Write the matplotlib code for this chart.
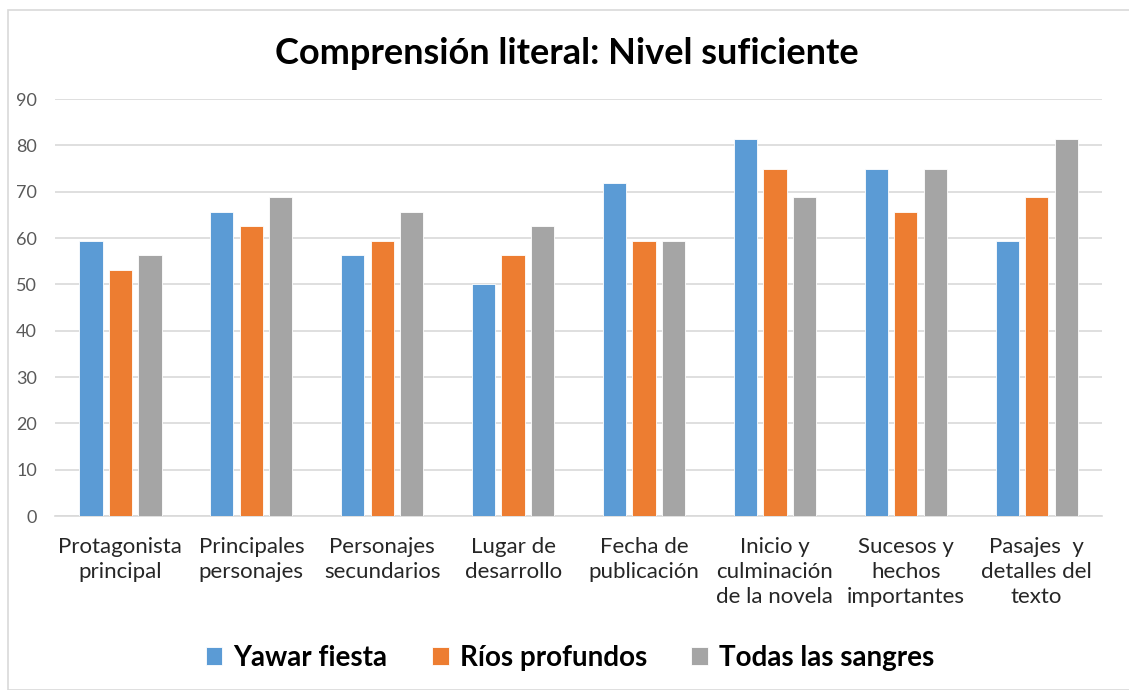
import matplotlib.pyplot as plt
import numpy as np
from matplotlib.patches import Rectangle

# Data
categories = ['Protagonista\nprincipal', 'Principales\npersonajes', 'Personajes\nsecundarios',
              'Lugar de\ndesarrollo', 'Fecha de\npublicación', 'Inicio y\nculminación\nde la novela',
              'Sucesos y\nhechos\nimportantes', 'Pasajes  y\ndetalles del\ntexto']
yawar_fiesta = [59.4, 65.6, 56.3, 50.0, 71.9, 81.3, 75.0, 59.4]
rios_profundos = [53.1, 62.5, 59.4, 56.3, 59.4, 75.0, 65.6, 68.8]
todas_las_sangres = [56.3, 68.8, 65.6, 62.5, 59.4, 68.8, 75.0, 81.3]
series_names = ['Yawar fiesta', 'Ríos profundos', 'Todas las sangres']

plt.rcParams['font.family'] = ['Lato', 'DejaVu Sans']

colors = ['#5b9bd5', '#ed7d31', '#a5a5a5']

fig = plt.figure(figsize=(11.29, 6.9), dpi=100)
ax = fig.add_axes([0.0487, 0.252, 0.9275, 0.6045])

x = np.arange(len(categories))
width = 0.178
offset = 0.2255
for i, (vals, name, color) in enumerate(zip([yawar_fiesta, rios_profundos, todas_las_sangres],
                                            series_names, colors)):
    ax.bar(x + (i - 1) * offset, vals, width, color=color, label=name,
           edgecolor='white', linewidth=0.6, zorder=3)

ax.set_xlim(-0.5, len(categories) - 0.5)
ax.set_ylim(0, 90)
ax.set_yticks(range(0, 91, 10))
ax.yaxis.grid(True, color='#d9d9d9', linewidth=1.2, zorder=0)
ax.set_axisbelow(True)
for s in ['top', 'right', 'left']:
    ax.spines[s].set_visible(False)
ax.spines['bottom'].set_color('#d9d9d9')
ax.spines['bottom'].set_linewidth(1.2)

ax.set_xticks(x)
ax.set_xticklabels(categories, fontsize=16, color='#262626', linespacing=1.3, va='top')
ax.tick_params(axis='x', length=0, pad=15)
ax.tick_params(axis='y', length=0, labelsize=13, labelcolor='#595959', pad=13)

fig.suptitle('Comprensión literal: Nivel suficiente', x=0.502, y=0.947,
             fontsize=26, fontweight='bold', color='black')

leg = fig.legend(loc='center', bbox_to_anchor=(0.505, 0.047), ncol=3, frameon=False,
                 prop={'size': 20, 'weight': 'bold'}, handlelength=0.6, handleheight=0.6,
                 handletextpad=0.4, columnspacing=1.6)

# Chart frame
fig.patches.append(Rectangle((8 / 1129, 0), 1.2, 1 - 10 / 690, transform=fig.transFigure,
                             fill=False, edgecolor='#d9d9d9', linewidth=1.2))

fig.savefig('out.png', dpi=100)
